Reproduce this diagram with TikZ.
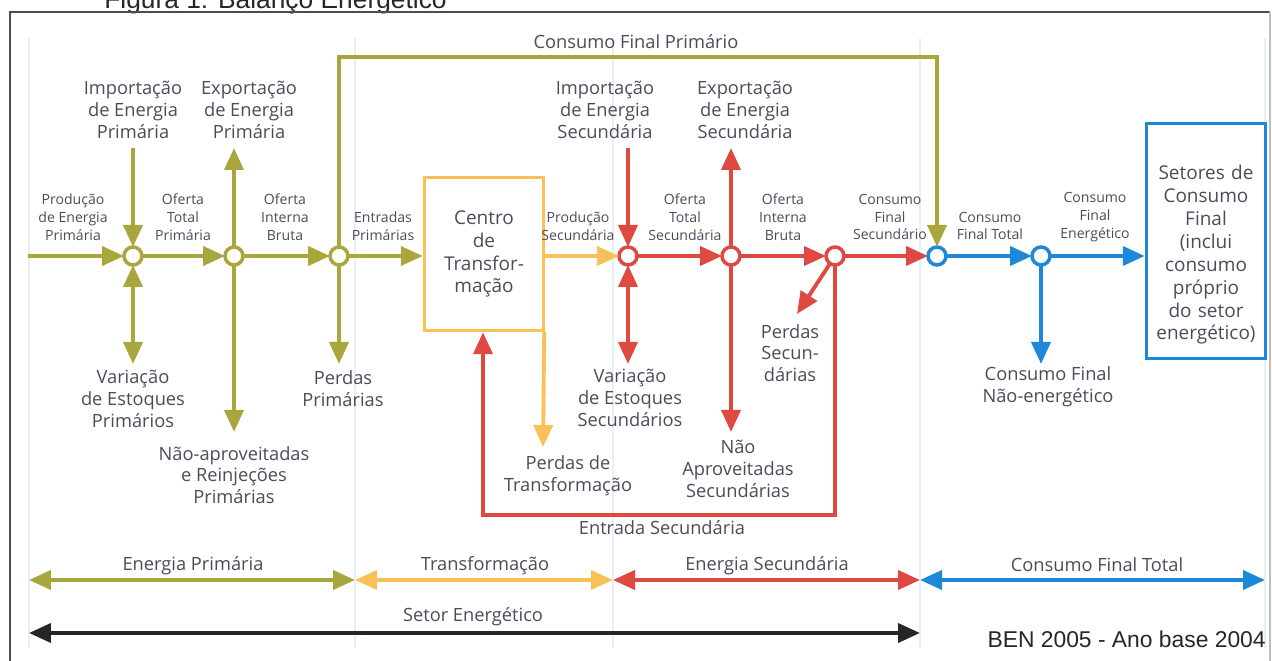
\documentclass[tikz,border=0pt]{standalone}
\usepackage{fontspec}
\setmainfont{Open Sans}
\newfontfamily\arialfont{Liberation Sans}
\usetikzlibrary{arrows.meta}
\definecolor{olivebal}{RGB}{168,166,60}
\definecolor{orangebal}{RGB}{250,192,88}
\definecolor{redbal}{RGB}{222,74,66}
\definecolor{bluebal}{RGB}{30,136,216}
\definecolor{txtbal}{RGB}{75,75,92}
\definecolor{sepbal}{RGB}{232,239,248}
\tikzset{
  hub/.style = {circle, draw=#1, fill=white, line width=2pt,
                minimum size=0.36cm, inner sep=0pt, outer sep=0pt},
  flow/.style = {draw=#1, line width=2.2pt,
                 -{Triangle[length=0.44cm,width=0.38cm]}},
  dflow/.style = {draw=#1, line width=2.2pt,
                  {Triangle[length=0.44cm,width=0.38cm]}-{Triangle[length=0.44cm,width=0.38cm]}},
  lbl/.style = {text=txtbal, align=center, inner sep=0pt,
                font=\fontsize{10.4}{12.4}\selectfont},
  slbl/.style = {text=txtbal, align=center, inner sep=0pt,
                 font=\fontsize{8}{10.2}\selectfont},
  blk/.style = {draw=#1, line width=2pt, minimum width=2.38cm, inner sep=0pt,
                text=txtbal, align=center, font=\fontsize{10.8}{13}\selectfont}
}
\begin{document}
\begin{tikzpicture}[x=0.02cm, y=-0.02cm]
	\useasboundingbox (0,0) rectangle (1272,661);

	% Frame and title
	\node[anchor=base west, inner sep=0pt, text=black!85,
	      font=\arialfont\fontsize{15}{18}\selectfont] (title) at (104,9) {Figura 1: Balanço Energético};
	\draw[black!70, line width=0.8pt] (10,661) -- (10,12) -- (1270,12);
	\draw[black!25, line width=0.6pt] (1270,12) -- (1270,661);

	% Separators
	\foreach \sx in {29, 355, 613, 920, 1265}
		\draw[sepbal, line width=0.8pt] (\sx,38) -- (\sx,648);

	% Hubs
	\node[hub=olivebal] (pa) at (133,256) {};
	\node[hub=olivebal] (pb) at (234,256) {};
	\node[hub=olivebal] (pc) at (339,256) {};
	\node[hub=redbal] (sa) at (628,256) {};
	\node[hub=redbal] (sb) at (731,256) {};
	\node[hub=redbal] (sc) at (835,256) {};
	\node[hub=bluebal] (fa) at (937,256) {};
	\node[hub=bluebal] (fb) at (1041,256) {};

	% Boxes
	\node[blk=orangebal, minimum height=3.06cm] (ct) at (484,254) {Centro\\de\\Transfor-\\mação};
	\node[blk=bluebal, minimum height=4.7cm] (sf) at (1206,241) {};
	\node[blk=none, draw=none, text width=2.3cm] (lsf) at (1206,255)
	     {Setores de\\Consumo\\Final\\(inclui\\consumo\\próprio\\do setor\\energético)};

	% Free ends
	\coordinate (pin) at (28,256);
	\coordinate (pimp) at (133,148);
	\coordinate (pexp) at (234,148);
	\coordinate (pvar) at (133,364);
	\coordinate (pnao) at (234,432);
	\coordinate (pper) at (339,364);
	\coordinate (cfpa) at (339,57);
	\coordinate (cfpb) at (937,57);
	\coordinate (tper) at (543,447);
	\coordinate (simp) at (628,148);
	\coordinate (sexp) at (731,148);
	\coordinate (svar) at (628,364);
	\coordinate (snao) at (731,432);
	\coordinate (sper) at (797,314);
	\coordinate (sena) at (835,515);
	\coordinate (senb) at (483,515);
	\coordinate (fnao) at (1041,364);

	% Primary flows
	\draw[flow=olivebal] (pin) -- (pa);
	\draw[flow=olivebal] (pa) -- (pb);
	\draw[flow=olivebal] (pb) -- (pc);
	\draw[flow=olivebal] (pc) -- (pc -| ct.west);
	\draw[flow=olivebal] (pimp) -- (pa);
	\draw[flow=olivebal] (pb) -- (pexp);
	\draw[dflow=olivebal] (pa) -- (pvar);
	\draw[flow=olivebal] (pb) -- (pnao);
	\draw[flow=olivebal] (pc) -- (pper);
	\draw[flow=olivebal] (pc) -- (cfpa) -- (cfpb) -- (fa);

	% Transformation
	\draw[flow=orangebal] (sa -| ct.east) -- (sa);
	\draw[flow=orangebal] (ct.south east) ++(-1,0) -- (tper);

	% Secondary flows
	\draw[flow=redbal] (sa) -- (sb);
	\draw[flow=redbal] (sb) -- (sc);
	\draw[flow=redbal] (sc) -- (fa);
	\draw[flow=redbal] (simp) -- (sa);
	\draw[flow=redbal] (sb) -- (sexp);
	\draw[dflow=redbal] (sa) -- (svar);
	\draw[flow=redbal] (sb) -- (snao);
	\draw[flow=redbal] (sc) -- (sper);
	\draw[flow=redbal] (sc) -- (sena) -- (senb) -- (senb |- ct.south);

	% Final consumption
	\draw[flow=bluebal] (fa) -- (fb);
	\draw[flow=bluebal] (fb) -- (fb -| sf.west);
	\draw[flow=bluebal] (fb) -- (fnao);

	% Labels
	\node[lbl] (lcfp) at (636,42) {Consumo Final Primário};
	\node[lbl] (lpimp) at (133,110) {Importação\\de Energia\\Primária};
	\node[lbl] (lpexp) at (249,110) {Exportação\\de Energia\\Primária};
	\node[slbl] (lpprod) at (73,217) {Produção\\de Energia\\Primária};
	\node[slbl] (lpot) at (183,217) {Oferta\\Total\\Primária};
	\node[slbl] (lpoib) at (285,217) {Oferta\\Interna\\Bruta};
	\node[slbl] (lpent) at (383,226) {Entradas\\Primárias};
	\node[lbl] (lpvar) at (133,399) {Variação\\de Estoques\\Primários};
	\node[lbl] (lpper) at (343,389) {Perdas\\Primárias};
	\node[lbl] (lpnao) at (234,475) {Não-aproveitadas\\e Reinjeções\\Primárias};
	\node[slbl] (lsprod) at (578,226) {Produção\\Secundária};
	\node[lbl] (ltper) at (568,476) {Perdas de\\Transformação};
	\node[lbl] (lsimp) at (605,110) {Importação\\de Energia\\Secundária};
	\node[lbl] (lsexp) at (745,110) {Exportação\\de Energia\\Secundária};
	\node[slbl] (lsot) at (685,217) {Oferta\\Total\\Secundária};
	\node[slbl] (lsoib) at (783,217) {Oferta\\Interna\\Bruta};
	\node[slbl] (lscfs) at (890,217) {Consumo\\Final\\Secundário};
	\node[lbl] (lsvar) at (630,398) {Variação\\de Estoques\\Secundários};
	\node[lbl] (lsper) at (790,353) {Perdas\\Secun-\\dárias};
	\node[lbl] (lsnao) at (738,469) {Não\\Aproveitadas\\Secundárias};
	\node[lbl] (lsent) at (662,528) {Entrada Secundária};
	\node[slbl] (lfcft) at (990,226) {Consumo\\Final Total};
	\node[slbl] (lfcfe) at (1095,217) {Consumo\\Final\\Energético};
	\node[lbl] (lfnao) at (1048,387) {Consumo Final\\Não-energético};

	% Ranges
	\coordinate (ra) at (29,580);
	\coordinate (rb) at (355,580);
	\coordinate (rc) at (613,580);
	\coordinate (rd) at (920,580);
	\coordinate (re) at (1265,580);
	\draw[dflow=olivebal] (ra) -- (rb);
	\draw[dflow=orangebal] (rb) -- (rc);
	\draw[dflow=redbal] (rc) -- (rd);
	\draw[dflow=bluebal] (rd) -- (re);
	\node[lbl] (lra) at (193,566) {Energia Primária};
	\node[lbl] (lrb) at (485,566) {Transformação};
	\node[lbl] (lrc) at (767,566) {Energia Secundária};
	\node[lbl] (lrd) at (1097,565) {Consumo Final Total};

	\coordinate (ta) at (29,633);
	\coordinate (tb) at (920,633);
	\draw[dflow=black!85] (ta) -- (tb);
	\node[lbl] (lset) at (473,617) {Setor Energético};

	\node[anchor=base east, inner sep=0pt, text=black!85,
	      font=\arialfont\fontsize{13}{15}\selectfont] (ben) at (1266,648) {BEN 2005 - Ano base 2004};
\end{tikzpicture}
\end{document}
